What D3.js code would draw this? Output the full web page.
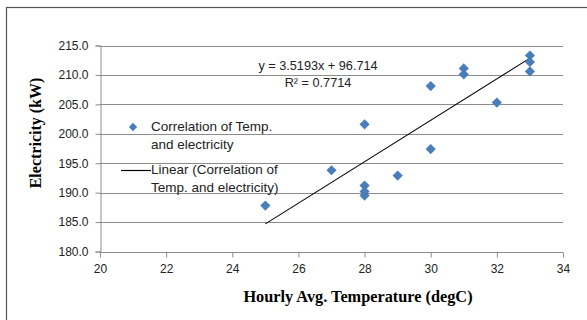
<html>
<head>
<meta charset="utf-8">
<script src="https://cdn.jsdelivr.net/npm/d3@7"></script>
<style>
  body { margin: 0; background: #fff; }
  .tick text { font-family: "Liberation Sans", Arial, sans-serif; font-size: 12px; fill: #222; }
</style>
</head>
<body>
<div id="chart"></div>
<script>
// temperature (degC) and electricity (kW)
const temps = [25, 27, 28, 28, 28, 28, 29, 30, 30, 31, 31, 32, 33, 33, 33];
const power = [187.8, 193.8, 201.6, 191.2, 190.2, 189.5, 192.9, 208.1, 197.4, 211.1, 210.1, 205.3, 213.3, 212.2, 210.6];
const xTicks = [20, 22, 24, 26, 28, 30, 32, 34];
const yTicks = [180, 185, 190, 195, 200, 205, 210, 215];
const slope = 3.5193, intercept = 96.714, r2 = 0.7714;
const trendRange = [25, 33];

const data = temps.map((t, i) => ({ t, p: power[i] }));

const W = 587, H = 320;
const svg = d3.select("#chart").append("svg").attr("width", W).attr("height", H);

// outer frame
svg.append("rect")
  .attr("x", 6.5).attr("y", 7.5).attr("width", 700).attr("height", 400)
  .attr("fill", "none").attr("stroke", "#555").attr("stroke-width", 1.2);

const x = d3.scaleLinear().domain([20, 34]).range([100, 563]);
const y = d3.scaleLinear().domain([180, 215]).range([251.5, 45.5]);

// gridlines
svg.append("g").selectAll("line")
  .data(yTicks.slice(1))
  .join("line")
  .attr("x1", x(20)).attr("x2", x(34))
  .attr("y1", d => Math.round(y(d)) + 0.5).attr("y2", d => Math.round(y(d)) + 0.5)
  .attr("stroke", "#8c8c8c").attr("stroke-width", 1);

const xAxis = svg.append("g")
  .attr("transform", "translate(0," + (Math.round(y(180)) + 0.5) + ")")
  .call(d3.axisBottom(x).tickValues(xTicks).tickSize(5).tickPadding(7).tickFormat(d3.format("d")));
const yAxis = svg.append("g")
  .attr("transform", "translate(" + (x(20) + 0.5) + ",0)")
  .call(d3.axisLeft(y).tickValues(yTicks).tickSize(5).tickPadding(7).tickFormat(d3.format(".1f")));
[xAxis, yAxis].forEach(g => {
  g.selectAll("path, line").attr("stroke", "#8c8c8c");
});
xAxis.select(".domain").attr("d", "M" + x(20) + ",0H" + x(34));

// trend line
svg.append("line")
  .attr("x1", x(trendRange[0])).attr("y1", y(slope * trendRange[0] + intercept))
  .attr("x2", x(trendRange[1])).attr("y2", y(slope * trendRange[1] + intercept))
  .attr("stroke", "#000").attr("stroke-width", 1.1);

// points
const diamond = d3.symbol().type(d3.symbolDiamond2).size(66);
svg.append("g").selectAll("path")
  .data(data)
  .join("path")
  .attr("d", diamond)
  .attr("transform", d => "translate(" + x(d.t) + "," + y(d.p) + ")")
  .attr("fill", "#4a7ebb");

const sans = "'Liberation Sans', Arial, sans-serif";

// equation
svg.append("text")
  .attr("x", 318).attr("y", 70)
  .attr("text-anchor", "middle")
  .style("font-family", sans).style("font-size", "12.7px").attr("fill", "#222")
  .text("y = " + slope + "x + " + intercept);
svg.append("text")
  .attr("x", 318).attr("y", 87)
  .attr("text-anchor", "middle")
  .style("font-family", sans).style("font-size", "12.7px").attr("fill", "#222")
  .text("R² = " + r2);

// legend
const legend = svg.append("g").style("font-family", sans).style("font-size", "13.5px").attr("fill", "#222");
legend.append("path")
  .attr("d", d3.symbol().type(d3.symbolDiamond2).size(44))
  .attr("transform", "translate(133,127)")
  .attr("fill", "#4a7ebb");
legend.append("text").attr("x", 151).attr("y", 131).text("Correlation of Temp.");
legend.append("text").attr("x", 151).attr("y", 149).text("and electricity");
legend.append("line")
  .attr("x1", 121).attr("x2", 151).attr("y1", 170.5).attr("y2", 170.5)
  .attr("stroke", "#000").attr("stroke-width", 1.2);
legend.append("text").attr("x", 151).attr("y", 174).text("Linear (Correlation of");
legend.append("text").attr("x", 151).attr("y", 192).text("Temp. and electricity)");

// axis titles
const serif = "'Liberation Serif', 'Times New Roman', serif";
svg.append("text")
  .attr("x", 358).attr("y", 302)
  .attr("text-anchor", "middle")
  .style("font-family", serif).style("font-size", "16.3px").style("font-weight", "bold")
  .text("Hourly Avg. Temperature (degC)");
svg.append("text")
  .attr("transform", "translate(41,133) rotate(-90)")
  .attr("text-anchor", "middle")
  .style("font-family", serif).style("font-size", "16px").style("font-weight", "bold")
  .text("Electricity (kW)");
</script>
</body>
</html>
